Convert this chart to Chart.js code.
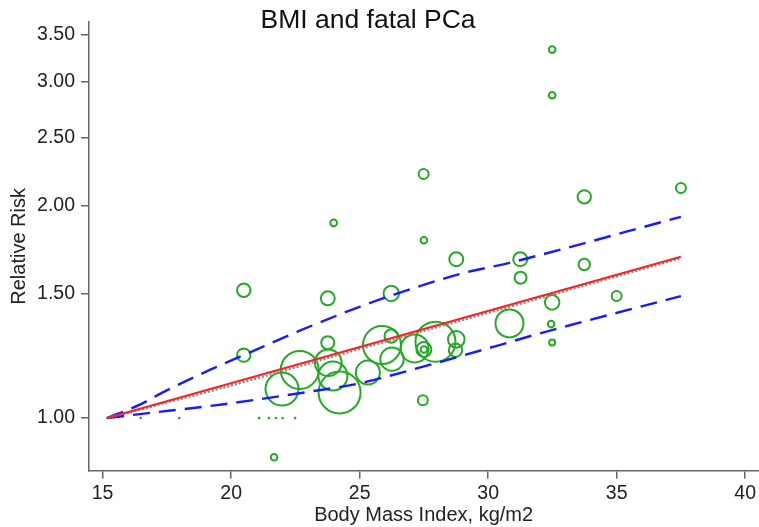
<!DOCTYPE html>
<html>
<head>
<meta charset="utf-8">
<script src="https://cdn.jsdelivr.net/npm/chart.js@4.4.0/dist/chart.umd.min.js"></script>
<style>
  html, body { margin: 0; padding: 0; background: #fff; }
</style>
</head>
<body>
<canvas id="myChart" width="759" height="527"></canvas>
<script>
// study estimates (circles), size ~ study weight
const studyBmi = [20.49, 20.49, 23.76, 23.76, 21.98, 22.67, 23.78, 23.96, 24.22, 25.32,
                  25.87, 26.23, 26.26, 26.23, 27.14, 27.95, 27.50, 27.50, 28.76, 28.73,
                  27.46, 30.83, 31.26, 31.25, 32.49, 35.00, 32.45, 32.49, 37.50, 33.74,
                  33.74, 32.49, 32.49, 27.49, 23.99, 27.50, 28.76, 21.67];
const studyRr = [1.518, 1.228, 1.478, 1.279, 1.099, 1.170, 1.198, 1.147, 1.087, 1.160,
                 1.269, 1.307, 1.212, 1.502, 1.255, 1.283, 1.251, 1.251, 1.293, 1.248,
                 1.060, 1.362, 1.581, 1.680, 1.459, 1.490, 1.359, 1.280, 2.120, 2.059,
                 1.651, 3.330, 2.869, 2.219, 1.891, 1.787, 1.680, 0.880];
const studyWeight = [6.7, 6.7, 7, 6.5, 16.5, 19, 13.3, 14.5, 21, 12,
                     19, 6.7, 11.7, 7.7, 14, 20, 7.5, 3.3, 8.3, 6.7,
                     5, 14, 6, 7, 7.3, 5, 3.3, 3, 5, 6.7,
                     5.7, 3.3, 3.3, 5, 3.3, 3.3, 7, 3.3];

// reference categories (RR = 1)
const refBmi = [15.18, 16.48, 17.98, 21.09, 21.47, 21.74, 22.0, 22.49];
const refRr = [1, 1, 1, 1, 1, 1, 1, 1];

// linear fit
const fitBmi = [15.18, 37.5];
const fitRr = [1.0, 1.693];

// spline fit (dotted)
const splineBmi = [15.18, 20, 25, 30, 37.5];
const splineRr = [1.0, 1.112, 1.253, 1.410, 1.686];

// confidence limits
const upperBmi = [15.18, 16.45, 17.27, 19.17, 20.49, 22.67, 25.0, 26.17, 28.89, 30.83, 37.5];
const upperRr = [1.0, 1.045, 1.084, 1.170, 1.228, 1.330, 1.438, 1.489, 1.600, 1.660, 1.929];
const lowerBmi = [15.18, 16.45, 18.78, 19.8, 23.06, 25.0, 25.78, 27.92, 30.44, 32.0, 37.5];
const lowerRr = [1.0, 1.013, 1.036, 1.047, 1.090, 1.120, 1.138, 1.195, 1.269, 1.318, 1.489];

const xTicks = [15, 20, 25, 30, 35, 40];
const yTicks = [1.0, 1.5, 2.0, 2.5, 3.0, 3.5];

const green = '#22aa22';
const blue = '#1a1aff';
const axisGray = '#666666';
const font = "'Liberation Sans', Arial, sans-serif";

const pts = (xs, ys) => xs.map((x, i) => ({ x: x, y: ys[i] }));

const titlePlugin = {
  id: 'topTitle',
  afterDraw(chart) {
    const ctx = chart.ctx;
    ctx.save();
    ctx.font = "26.5px " + font;
    ctx.fillStyle = '#111';
    ctx.textAlign = 'center';
    ctx.textBaseline = 'alphabetic';
    ctx.fillText('BMI and fatal PCa', 368, 28);
    ctx.restore();
  }
};

Chart.defaults.font.family = font;

new Chart(document.getElementById('myChart').getContext('2d'), {
  type: 'scatter',
  data: {
    datasets: [
      {
        type: 'line', data: pts(fitBmi, fitRr),
        borderColor: '#ff2020', borderWidth: 2, pointRadius: 0, fill: false
      },
      {
        type: 'line', data: pts(splineBmi, splineRr),
        borderColor: '#8a8a8a', borderWidth: 2.4, borderDash: [2, 2],
        pointRadius: 0, fill: false, cubicInterpolationMode: 'monotone'
      },
      {
        type: 'line', data: pts(upperBmi, upperRr),
        borderColor: blue, borderWidth: 2.4, borderDash: [17, 9],
        pointRadius: 0, fill: false, cubicInterpolationMode: 'monotone'
      },
      {
        type: 'line', data: pts(lowerBmi, lowerRr),
        borderColor: blue, borderWidth: 2.4, borderDash: [17, 9],
        pointRadius: 0, fill: false, cubicInterpolationMode: 'monotone'
      },
      {
        type: 'bubble',
        data: studyBmi.map((x, i) => ({ x: x, y: studyRr[i], r: studyWeight[i] })),
        borderColor: green, backgroundColor: 'rgba(0,0,0,0)', borderWidth: 2
      },
      {
        type: 'scatter', data: pts(refBmi, refRr),
        pointRadius: 1.3, backgroundColor: green, borderWidth: 0
      }
    ]
  },
  options: {
    responsive: false,
    devicePixelRatio: 1,
    animation: false,
    events: [],
    layout: { autoPadding: false, padding: { top: 22, left: 0, right: 0, bottom: 0 } },
    plugins: { legend: { display: false }, tooltip: { enabled: false } },
    scales: {
      x: {
        type: 'linear', bounds: 'data', min: 14.47, max: 40.51,
        afterBuildTicks: s => { s.ticks = xTicks.map(v => ({ value: v })); },
        afterFit: s => { s.height = 56.3; },
        grid: { drawOnChartArea: false, drawTicks: true, tickLength: 8, color: axisGray, lineWidth: 1.5 },
        border: { display: true, color: axisGray, width: 1.5 },
        ticks: { font: { size: 19.5 }, color: '#222', padding: 3, maxRotation: 0, autoSkip: false },
        title: { display: true, text: 'Body Mass Index, kg/m2', font: { size: 20 }, color: '#222', padding: { top: 0, bottom: 0 } }
      },
      y: {
        type: 'logarithmic', bounds: 'data', min: 0.842, max: 3.644,
        afterBuildTicks: s => { s.ticks = yTicks.map(v => ({ value: v })); },
        afterFit: s => { s.width = 89; },
        grid: { drawOnChartArea: false, drawTicks: true, tickLength: 8, color: axisGray, lineWidth: 1.5 },
        border: { display: true, color: axisGray, width: 1.5 },
        ticks: { font: { size: 19.5 }, color: '#222', padding: 6, autoSkip: false, callback: v => Number(v).toFixed(2) },
        title: { display: true, text: 'Relative Risk', font: { size: 20 }, color: '#222', padding: { top: 7, bottom: 0 } }
      }
    }
  },
  plugins: [titlePlugin]
});
</script>
</body>
</html>
